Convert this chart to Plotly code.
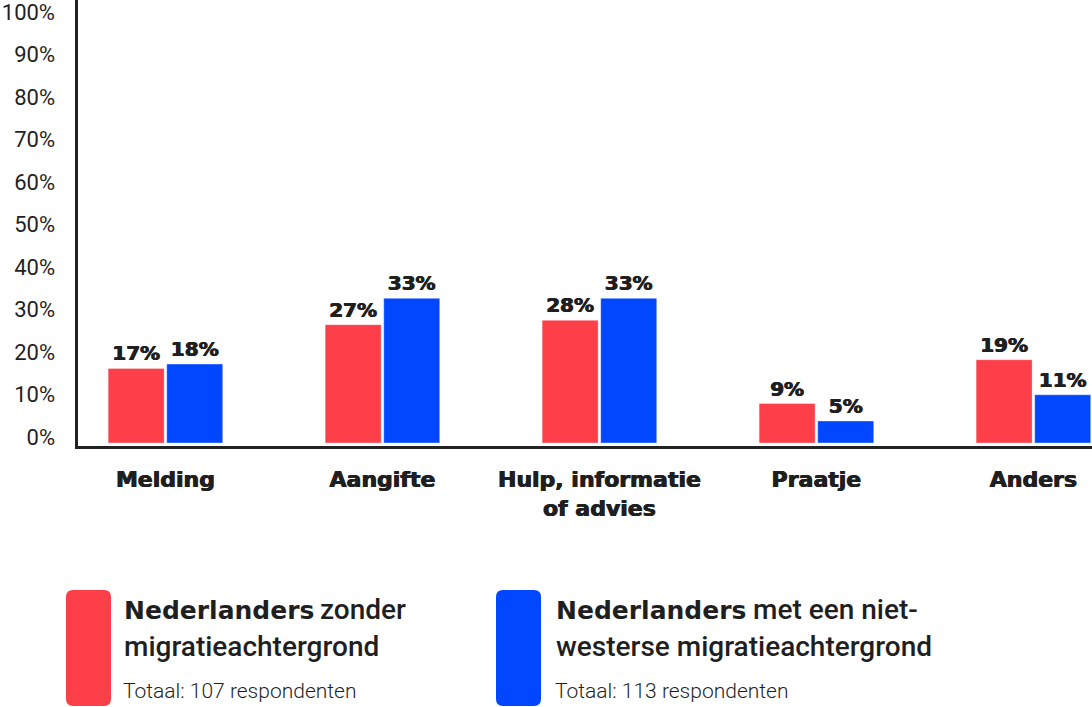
import plotly.graph_objects as go

categories = ["Melding", "Aangifte", "Hulp, informatie of advies", "Praatje", "Anders"]
category_labels = ["Melding", "Aangifte", "Hulp, informatie<br>of advies", "Praatje", "Anders"]
red_values = [17, 27, 28, 9, 19]
blue_values = [18, 33, 33, 5, 11]
y_ticks = [0, 10, 20, 30, 40, 50, 60, 70, 80, 90, 100]
y_tick_labels = [f"{v}%" for v in y_ticks]
series_bold = ["Nederlanders", "Nederlanders"]
series_rest = [["zonder", "migratieachtergrond"],
               ["met een niet-", "westerse migratieachtergrond"]]
totals = ["Totaal: 107 respondenten", "Totaal: 113 respondenten"]

RED = "#FD3F49"
BLUE = "#0047FF"
DARK = "#1f1f1f"

W, H = 1092, 707
L, T, PW, PH = 78, 0, 1014, 446


def px_x(p):
    return (p - L) / PW


def px_y(p):
    return (T + PH - p) / PH


HEAVY_SHADOW = "0.5px 0 0 #1f1f1f, -0.5px 0 0 #1f1f1f"
VALUE_FONT = dict(family="DejaVu Sans", size=20, color=DARK, weight="bold", shadow=HEAVY_SHADOW)
CAT_FONT = dict(family="DejaVu Sans", size=22, color=DARK, weight="bold", shadow=HEAVY_SHADOW)

fig = go.Figure()
for vals, col, off in [(red_values, RED, -0.264), (blue_values, BLUE, 0.006)]:
    fig.add_trace(go.Bar(
        x=categories, y=vals,
        marker=dict(color=col, line=dict(color="rgba(255,255,255,0.35)", width=1)),
        width=0.258, offset=off,
        text=[f"{v}%" for v in vals], textposition="outside", constraintext="none",
        textfont=VALUE_FONT, cliponaxis=False, showlegend=False,
    ))
# invisible trace carrying the percentage tick axis
fig.add_trace(go.Scatter(x=categories, y=[None] * len(categories), yaxis="y2",
                         mode="markers", showlegend=False, hoverinfo="skip"))


def rounded_rect(x0, y0, x1, y1, r):
    def P(x, y):
        return f"{px_x(x):.5f},{px_y(y):.5f}"
    return (f"M {P(x0 + r, y0)} L {P(x1 - r, y0)} Q {P(x1, y0)} {P(x1, y0 + r)} "
            f"L {P(x1, y1 - r)} Q {P(x1, y1)} {P(x1 - r, y1)} "
            f"L {P(x0 + r, y1)} Q {P(x0, y1)} {P(x0, y1 - r)} "
            f"L {P(x0, y0 + r)} Q {P(x0, y0)} {P(x0 + r, y0)} Z")


shapes = []
annotations = []
legend_blocks = [
    (66, RED, 122, 318),
    (496, BLUE, 554, 751),
]
for i, (x0, col, tx, tx2) in enumerate(legend_blocks):
    shapes.append(dict(type="path", xref="paper", yref="paper",
                       path=rounded_rect(x0, 590, x0 + 45, 706, 7),
                       fillcolor=col, line=dict(width=0)))
    annotations.append(dict(
        text=series_bold[i], xref="paper", yref="paper", x=px_x(tx), y=px_y(610),
        xanchor="left", yanchor="middle", showarrow=False, align="left",
        font=dict(family="DejaVu Sans", size=25, color=DARK, weight="bold")))
    annotations.append(dict(
        text=series_rest[i][0], xref="paper", yref="paper", x=px_x(tx2), y=px_y(609),
        xanchor="left", yanchor="middle", showarrow=False, align="left",
        font=dict(family="Roboto", size=28, color=DARK, weight=500)))
    annotations.append(dict(
        text=series_rest[i][1], xref="paper", yref="paper", x=px_x(tx), y=px_y(646),
        xanchor="left", yanchor="middle", showarrow=False, align="left",
        font=dict(family="Roboto", size=28, color=DARK, weight=500)))
    annotations.append(dict(
        text=totals[i], xref="paper", yref="paper", x=px_x(tx - 1), y=px_y(691),
        xanchor="left", yanchor="middle", showarrow=False, align="left",
        font=dict(family="Roboto", size=21, color=DARK, weight=300)))

fig.update_layout(
    width=W, height=H,
    margin=dict(l=L, r=W - L - PW, t=T, b=H - T - PH, pad=0),
    paper_bgcolor="white", plot_bgcolor="white",
    showlegend=False,
    shapes=shapes, annotations=annotations,
    xaxis=dict(
        type="category", range=[-0.403, 4.27],
        tickvals=categories, ticktext=category_labels,
        showline=True, linewidth=3, linecolor="#222222",
        showgrid=False, zeroline=False, ticks="",
        tickfont=CAT_FONT,
        ticklabelstandoff=12,
    ),
    yaxis=dict(
        range=[-0.7, 101.1],
        showline=True, linewidth=3, linecolor="#222222",
        showgrid=False, zeroline=False, ticks="", showticklabels=False,
    ),
    yaxis2=dict(
        overlaying="y", side="left", range=[-2.12, 102.82],
        tickvals=y_ticks, ticktext=y_tick_labels,
        showline=False, showgrid=False, zeroline=False, ticks="",
        tickfont=dict(family="Roboto", size=22, color=DARK),
        ticklabelstandoff=22, ticklabeloverflow="allow",
    ),
)

fig.write_html("out.html")
